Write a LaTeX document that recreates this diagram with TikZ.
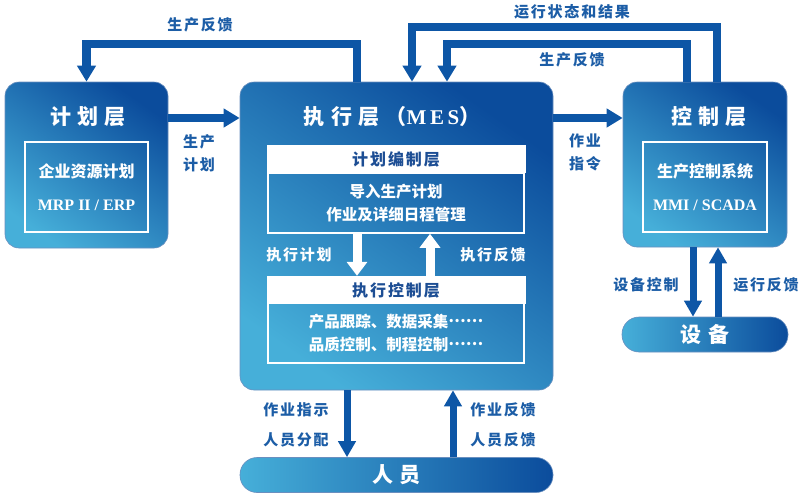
\documentclass[tikz,border=0pt]{standalone}
\usepackage{fontspec}
\setmainfont{Liberation Serif}
\newfontfamily\cjk{Noto Sans CJK SC}
\newfontfamily\cjkwide{Noto Sans CJK SC}[LetterSpace=30]
\newfontfamily\cjklbl{Noto Sans CJK SC}[LetterSpace=12]
\usepackage{tikz}
\usetikzlibrary{arrows.meta,positioning}
\definecolor{BoxDark}{HTML}{0B4C9C}
\definecolor{BoxMid}{HTML}{1660AE}
\definecolor{BoxLight}{HTML}{46AFD9}
\definecolor{Edge}{HTML}{6A8FBF}
\definecolor{ArrowBlue}{HTML}{0D56A6}
\definecolor{LabelBlue}{HTML}{1C5DA6}
\definecolor{HeadInk}{HTML}{1D4E94}
\newcommand{\midots}{\raisebox{0.32em}{……}}
\tikzset{
  layer/.style={rounded corners=14pt,draw=Edge,line width=0.6pt,top color=BoxDark,middle color=BoxMid,bottom color=BoxLight,shading angle=-35,inner sep=0pt},
  pill/.style={rounded corners=17pt,draw=Edge,line width=0.6pt,left color=BoxLight,right color=BoxDark,minimum height=35pt,text=white,font=\cjkwide\bfseries\fontsize{21}{24}\selectfont},
  title/.style={text=white,font=\cjkwide\bfseries\fontsize{21}{24}\selectfont},
  innerbox/.style={draw=white,line width=1.5pt,align=center,text=white,font=\cjk\bfseries\fontsize{16}{33}\selectfont},
  header/.style={fill=white,minimum width=259pt,minimum height=28pt,inner sep=0pt,text=HeadInk,font=\cjklbl\bfseries\fontsize{16}{19}\selectfont},
  subbox/.style={draw=white,line width=1.5pt,minimum width=256pt,minimum height=60pt,align=center,text=white,font=\cjk\bfseries\fontsize{15.5}{23}\selectfont},
  fat/.style={-{Triangle[width=18pt,length=16pt]},line width=8.5pt,draw=ArrowBlue},
  slim/.style={-{Triangle[width=17pt,length=16pt]},line width=7pt,draw=ArrowBlue},
  whiteArrow/.style={-{Triangle[width=20pt,length=14pt]},line width=9pt,draw=white},
  lbl/.style={text=LabelBlue,align=center,font=\cjklbl\bfseries\fontsize{15}{23}\selectfont},
  lblTall/.style={lbl,font=\cjklbl\bfseries\fontsize{15}{30}\selectfont},
  lblIn/.style={text=white,font=\cjklbl\bfseries\fontsize{15}{18}\selectfont}
}
\begin{document}
\begin{tikzpicture}[x=1pt,y=-1pt]
\useasboundingbox (0,0) rectangle (803,496);
\node[layer,minimum width=163pt,minimum height=166pt] (plan) at (86.5,165) {};
\node[layer,minimum width=313pt,minimum height=308pt] (exe) at (396.5,236) {};
\node[layer,minimum width=164pt,minimum height=165pt] (ctrl) at (705,164.5) {};
\node[title] (planT) at (88,117) {计划层};
\node[title] (exeT) at (392,117) {执行层（{\rmfamily M\,E\,S}）};
\node[title] (ctrlT) at (709,117) {控制层};
\node[innerbox,minimum width=123pt,minimum height=90pt] (planBox) at (86.5,187) {企业资源计划\\{\rmfamily\bfseries MRP II / ERP}};
\node[innerbox,minimum width=124pt,minimum height=90pt] (ctrlBox) at (705,187) {生产控制系统\\{\rmfamily\bfseries MMI / SCADA}};
\node[header] (hdrPlan) at (396,159) {计划编制层};
\node[subbox] (boxPlan) at (396,203) {导入生产计划\\作业及详细日程管理};
\node[header] (hdrCtrl) at (396,290) {执行控制层};
\node[subbox] (boxCtrl) at (396,333) {产品跟踪、数据采集\midots\\品质控制、制程控制\midots};
\node[pill,minimum width=166pt] (dev) at (705,334.5) {设备};
\node[pill,minimum width=313pt] (staff) at (396.5,475) {人员};
\coordinate (rowA) at (0,118);
\coordinate (execDn) at (357,0);
\coordinate (execUp) at (430,0);
\coordinate (staffDn) at (347,0);
\coordinate (staffUp) at (453,0);
\coordinate (devDn) at (693,0);
\coordinate (devUp) at (718,0);
\coordinate (fbL) at (357,44);
\coordinate (rsR) at (717,27);
\coordinate (rsL) at (412,27);
\coordinate (fbR) at (687,44);
\coordinate (fbR2) at (447,44);
\draw[fat] (plan.east |- rowA) -- (exe.west |- rowA);
\draw[fat] (exe.east |- rowA) -- (ctrl.west |- rowA);
\draw[fat] (exe.north -| fbL) -- (fbL) -| (plan.north);
\draw[fat] (ctrl.north -| rsR) -- (rsR) -- (rsL) -- (exe.north -| rsL);
\draw[fat] (ctrl.north -| fbR) -- (fbR) -- (fbR2) -- (exe.north -| fbR2);
\draw[whiteArrow] (boxPlan.south -| execDn) -- (hdrCtrl.north -| execDn);
\draw[whiteArrow] (hdrCtrl.north -| execUp) -- (boxPlan.south -| execUp);
\draw[slim] (exe.south -| staffDn) -- (staff.north -| staffDn);
\draw[slim] (staff.north -| staffUp) -- (exe.south -| staffUp);
\draw[slim] (ctrl.south -| devDn) -- (dev.north -| devDn);
\draw[slim] (dev.north -| devUp) -- (ctrl.south -| devUp);
\node[lbl] (lFbL) at (200,25) {生产反馈};
\node[lbl] (lRun) at (572,12) {运行状态和结果};
\node[lbl] (lFbR) at (572,60) {生产反馈};
\node[lbl] (lPlan) at (199,153) {生产\\计划};
\node[lbl] (lOrder) at (585,152) {作业\\指令};
\node[lblIn] (lExec) at (299,255) {执行计划};
\node[lblIn] (lExFb) at (493,255) {执行反馈};
\node[lblTall] (lInst) at (296,425) {作业指示\\人员分配};
\node[lblTall] (lWkFb) at (503,425) {作业反馈\\人员反馈};
\node[lbl] (lDevC) at (646,285) {设备控制};
\node[lbl] (lRunFb) at (766,285) {运行反馈};
\end{tikzpicture}
\end{document}
